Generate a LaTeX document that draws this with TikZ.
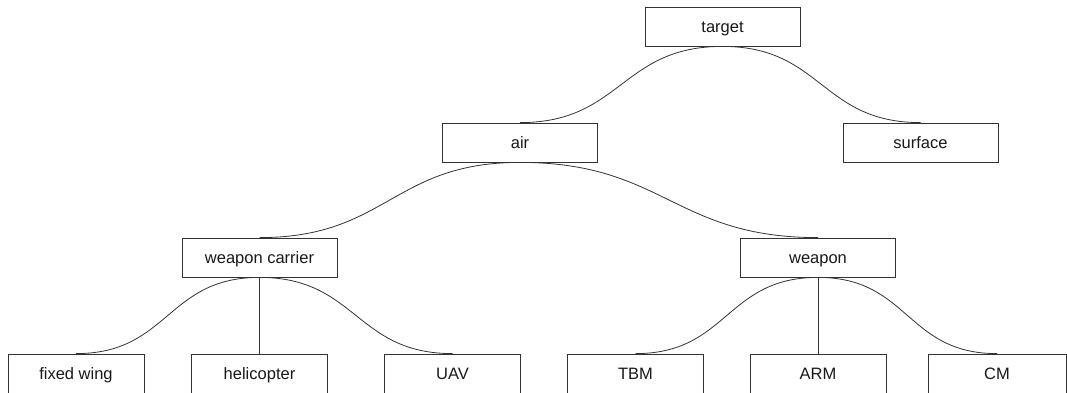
\documentclass[tikz,border=0pt]{standalone}
\usepackage{fontspec}
\setmainfont{Liberation Sans}
\begin{document}
\begin{tikzpicture}[x=1pt,y=-1pt,
  box/.style={draw=black!80, line width=0.8pt, fill=white, inner sep=0pt,
    minimum width=155pt, minimum height=39pt, text height=11.8pt, text depth=0pt,
    font=\fontsize{16.5pt}{18pt}\selectfont, text=black!90},
  leaf/.style={box, minimum width=136pt},
  link/.style={draw=black!80, line width=0.8pt},
  toleft/.style={link, out=180, in=0, looseness=1.2},
  toright/.style={link, out=0, in=180, looseness=1.2}]
\useasboundingbox (0,0) rectangle (1067,392);

% tree nodes
\node[box]  (target)  at (722.5,26.5)  {target};
\node[box]  (air)     at (520,142.5)   {air};
\node[box]  (surface) at (920.5,142.5) {surface};
\node[box]  (carrier) at (259.5,257.5) {weapon carrier};
\node[box]  (weapon)  at (818,257.5)   {weapon};
\node[leaf] (fixed)   at (76,373.5)    {fixed wing};
\node[leaf] (heli)    at (259.5,373.5) {helicopter};
\node[leaf] (uav)     at (452.5,373.5) {UAV};
\node[leaf] (tbm)     at (635.5,373.5) {TBM};
\node[leaf] (arm)     at (818,373.5)   {ARM};
\node[leaf, minimum width=138pt] (cm) at (997,373.5) {CM};

% connectors
\draw[toleft]  (target.south)  to (air.north);
\draw[toright] (target.south)  to (surface.north);
\draw[toleft]  (air.south)     to (carrier.north);
\draw[toright] (air.south)     to (weapon.north);
\draw[toleft]  (carrier.south) to (fixed.north);
\draw[link]    (carrier.south) -- (heli.north);
\draw[toright] (carrier.south) to (uav.north);
\draw[toleft]  (weapon.south)  to (tbm.north);
\draw[link]    (weapon.south)  -- (arm.north);
\draw[toright] (weapon.south)  to (cm.north);
\end{tikzpicture}
\end{document}
